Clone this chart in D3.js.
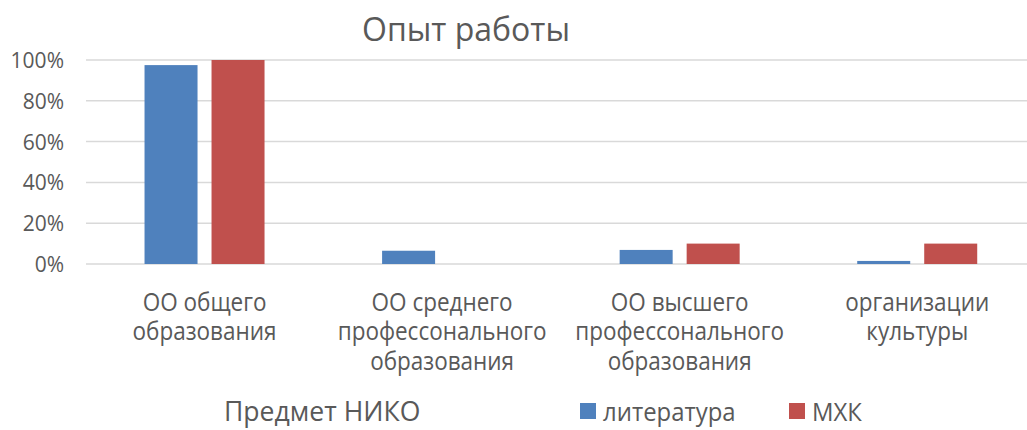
<!DOCTYPE html>
<html>
<head>
<meta charset="utf-8">
<script src="https://cdn.jsdelivr.net/npm/d3@7"></script>
<style>
  body { margin: 0; background: #fff; }
  text { font-family: "Open Sans", sans-serif; fill: #595959; }
</style>
</head>
<body>
<svg id="chart" width="1027" height="430"></svg>
<script>
const categories = [
    ["ОО общего", "образования"],
    ["ОО среднего", "профессонального", "образования"],
    ["ОО высшего", "профессонального", "образования"],
    ["организации", "культуры"]
];
const series = ["литература", "МХК"];
const literatura = [0.975, 0.065, 0.069, 0.015];
const mhk = [1.0, 0, 0.10, 0.10];
const yTicks = [0, 0.2, 0.4, 0.6, 0.8, 1.0];
const colors = ["#4f81bd", "#c0504d"];

const svg = d3.select("#chart");
const width = 1027;

const data = categories.map((c, i) => ({ cat: i, label: c, values: [literatura[i], mhk[i]] }));

const x0 = d3.scaleBand()
             .domain(d3.range(categories.length))
             .range([85.75, 1036])
             .padding(0);
const x1 = d3.scaleBand()
             .domain(series)
             .range([0, 120])
             .paddingInner(14 / 67);
const groupOffset = (x0.bandwidth() - 120) / 2;

const yScale = d3.scaleLinear()
                 .domain([0, 1])
                 .range([264, 60]);

// Gridlines
svg.append("g")
   .selectAll("line")
   .data(yTicks)
   .enter()
   .append("line")
       .attr("x1", 86)
       .attr("x2", width)
       .attr("y1", d => yScale(d))
       .attr("y2", d => yScale(d))
       .attr("stroke", "#d9d9d9")
       .attr("stroke-width", 1.5);

// Y axis labels
const yAxis = d3.axisLeft(yScale)
                .tickValues(yTicks)
                .tickFormat(d3.format(".0%"))
                .tickSize(0)
                .tickPadding(0);
svg.append("g")
   .attr("transform", "translate(64,0)")
   .call(yAxis)
   .call(g => g.select(".domain").remove())
   .selectAll("text")
       .attr("font-size", 21)
       .attr("font-family", "Open Sans, sans-serif")
       .attr("fill", "#595959")
       .attr("dy", "0.36em");

// Bars
const groups = svg.append("g")
                  .selectAll("g")
                  .data(data)
                  .enter()
                  .append("g")
                  .attr("transform", d => `translate(${x0(d.cat) + groupOffset},0)`);

groups.selectAll("rect")
      .data(d => d.values.map((v, j) => ({ s: series[j], v: v, j: j })))
      .enter()
      .append("rect")
          .attr("x", d => x1(d.s))
          .attr("y", d => yScale(d.v))
          .attr("width", x1.bandwidth())
          .attr("height", d => yScale(0) - yScale(d.v))
          .attr("fill", d => colors[d.j]);

// Category labels (narrow, like the original)
const labels = svg.append("g")
                  .selectAll("text")
                  .data(data)
                  .enter()
                  .append("text")
                  .attr("text-anchor", "middle")
                  .attr("font-size", 25)
                  .attr("transform", d => `translate(${x0(d.cat) + x0.bandwidth() / 2},311) scale(0.9,1)`);
labels.selectAll("tspan")
      .data(d => d.label)
      .enter()
      .append("tspan")
          .attr("x", 0)
          .attr("y", (d, i) => i * 29.5)
          .text(d => d);

// Title
svg.append("text")
   .attr("x", 466)
   .attr("y", 41)
   .attr("text-anchor", "middle")
   .attr("font-size", 32)
   .text("Опыт работы");

// Legend
svg.append("text")
   .attr("transform", "translate(224,421) scale(0.95,1)")
   .attr("font-size", 28)
   .text("Предмет НИКО");

const legendX = [580, 789];
const legend = svg.append("g")
                  .selectAll("g")
                  .data(series)
                  .enter()
                  .append("g")
                  .attr("transform", (d, i) => `translate(${legendX[i]},403)`);
legend.append("rect")
      .attr("width", 16)
      .attr("height", 16)
      .attr("fill", (d, i) => colors[i]);
legend.append("text")
      .attr("transform", "translate(23,18) scale(0.92,1)")
      .attr("font-size", 26)
      .text(d => d);
</script>
</body>
</html>
